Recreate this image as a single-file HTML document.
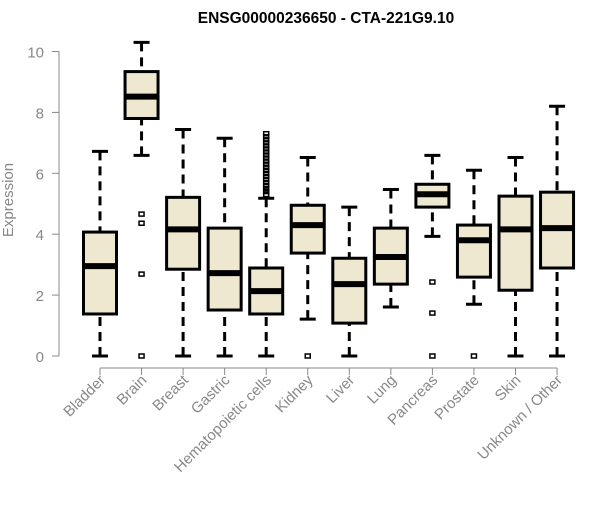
<!DOCTYPE html>
<html><head><meta charset="utf-8"><style>
body{margin:0;background:#fff}
svg text{font-family:"Liberation Sans",Arial,sans-serif}
</style></head><body>
<svg id="chart" width="600" height="500" xmlns="http://www.w3.org/2000/svg">
<text x="326" y="23" text-anchor="middle" font-size="15.5" font-weight="bold">ENSG00000236650 - CTA-221G9.10</text>
<text transform="translate(13,200) rotate(-90)" text-anchor="middle" font-size="15" fill="#888">Expression</text>
<g id="axes"></g><g id="marks"></g>
</svg>
<script>
const categories=["Bladder","Brain","Breast","Gastric","Hematopoietic cells","Kidney","Liver","Lung","Pancreas","Prostate","Skin","Unknown / Other"];
const whiskerLow=[0,6.59,0,0,0,1.21,0,1.61,3.93,1.7,0,0];
const q1=[1.38,7.8,2.85,1.51,1.38,3.38,1.08,2.36,4.89,2.59,2.16,2.89];
const medians=[2.95,8.52,4.16,2.72,2.13,4.3,2.36,3.25,5.31,3.8,4.16,4.2];
const q3=[4.07,9.34,5.21,4.2,2.89,4.95,3.21,4.2,5.64,4.3,5.25,5.38];
const whiskerHigh=[6.72,10.3,7.44,7.15,5.18,6.52,4.89,5.47,6.59,6.1,6.52,8.2];
const outliers=[[],[4.66,4.36,2.69,0],[],[],[5.3,5.4,5.45,5.5,5.6,5.7,5.8,5.9,6.0,6.1,6.2,6.3,6.4,6.5,6.6,6.7,6.8,6.9,7.0,7.1,7.2,7.3],[0],[],[],[2.43,1.41,0],[0],[],[]];
const yTicks=[0,2,4,6,8,10];
const NS="http://www.w3.org/2000/svg";
const x=i=>100+i*41.55, y=v=>356-v*30.45;
function mk(tag,attrs,parent){const e=document.createElementNS(NS,tag);for(const k in attrs)e.setAttribute(k,attrs[k]);parent.appendChild(e);return e;}
const ax=document.getElementById('axes'),mg=document.getElementById('marks');
let l=mk('line',{x1:59,x2:59,y1:y(0),y2:y(10),stroke:'#888'},ax);


yTicks.forEach(t=>{
 let tk=mk('line',{x1:52,x2:59,y1:y(t),y2:y(t),stroke:'#888'},ax);
 
 
 let tx=mk('text',{x:44,y:y(t)+6,'text-anchor':'end','font-size':15,fill:'#888'},ax);tx.textContent=t;
 
 
});
let xl=mk('line',{x1:x(0),x2:x(11),y1:368,y2:368,stroke:'#888'},ax);


categories.forEach((c,i)=>{
 let tk=mk('line',{x1:x(i),x2:x(i),y1:368,y2:375,stroke:'#888'},ax);
 
 
 let tx=mk('text',{transform:`translate(${x(i)+6},${381}) rotate(-45)`,'text-anchor':'end','font-size':15,fill:'#888'},ax);tx.textContent=c;
 
 
 const g=mk('g',{},mg);
 
 
 const cx=x(i);
 mk('line',{x1:cx,x2:cx,y1:y(whiskerHigh[i]),y2:y(q3[i]),stroke:'#000','stroke-width':3,'stroke-dasharray':'9,6'},g);
 mk('line',{x1:cx,x2:cx,y1:y(whiskerLow[i]),y2:y(q1[i]),stroke:'#000','stroke-width':3,'stroke-dasharray':'9,6'},g);
 mk('line',{x1:cx-8,x2:cx+8,y1:y(whiskerHigh[i]),y2:y(whiskerHigh[i]),stroke:'#000','stroke-width':3},g);
 mk('line',{x1:cx-8,x2:cx+8,y1:y(whiskerLow[i]),y2:y(whiskerLow[i]),stroke:'#000','stroke-width':3},g);
 mk('rect',{x:cx-16.5,y:y(q3[i]),width:33,height:y(q1[i])-y(q3[i]),fill:'#ede8cf',stroke:'#000','stroke-width':3},g);
 mk('line',{x1:cx-16.5,x2:cx+16.5,y1:y(medians[i]),y2:y(medians[i]),stroke:'#000','stroke-width':6},g);
 outliers[i].forEach(v=>{mk('rect',{x:cx-2.5,y:y(v)-2,width:5,height:4,fill:'none',stroke:'#000','stroke-width':1.5},g);});
});
</script>
</body></html>
